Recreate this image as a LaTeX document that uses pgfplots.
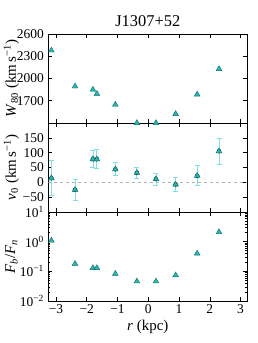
\documentclass[border=0pt]{standalone}
\usepackage{fontspec}
\setmainfont{Liberation Serif}
\usepackage{pgfplots}
\pgfplotsset{compat=1.18}
\definecolor{mk}{HTML}{25B8B2}
\definecolor{mke}{HTML}{0F6B68}
\definecolor{eb}{HTML}{80DEE4}
\pgfplotsset{
  panel/.style={
    scale only axis, width=199bp, height=89bp,
    xmin=-3.25, xmax=3.22,
    xtick={-3,...,3},
    tick align=inside,
    /pgf/number format/1000 sep={},
    /pgf/number format/assume math mode=true,
    ticklabel style={font=\fontsize{13.5}{13.5}\selectfont},
    label style={font=\fontsize{15}{15}\selectfont},
    axis line style={line width=0.8pt},
    major tick length=4bp, minor tick length=2bp,
    every tick/.style={black, line width=0.5pt},
    ylabel style={at={(axis description cs:-0.185,0.5)}, anchor=center},
    yticklabel style={xshift=-1bp},
  },
  mks/.style={only marks, mark=triangle*, mark size=3.3bp, mark options={fill=mk, draw=mke, line width=0.4pt}},
}
\pgfplotstableread{
x      w     v    e    f
-3.15  2379  14   59   1.1
-2.38  1894  -25  35   0.18
-1.80  1850  78   28   0.13
-1.67  1794  78   32   0.13
-1.07  1648  44   22   0.083
-0.37  1401  32   20   0.046
0.25   1401  11   20   0.046
0.89   1522  -7   24   0.074
1.59   1785  22   34   0.40
2.30   2128  105  43   2.1
}\data
\begin{document}
\begin{tikzpicture}
\path[use as bounding box] (0,0) rectangle (258bp,343bp);
% bottom panel
\begin{axis}[panel, at={(48.3bp,42bp)}, anchor=south west,
  ymode=log, ymin=1e-2, ymax=10,
  ytick={0.01,0.1,1,10},
  yticklabels={10\textsuperscript{−2},10\textsuperscript{−1},10\textsuperscript{0},10\textsuperscript{1}},
  xticklabels={−3,−2,−1,0,1,2,3},
  xlabel={\textit{r} (kpc)},
  ylabel={\textit{F}\textsubscript{\textit{b}}/\textit{F}\textsubscript{\textit{n}}},
]
\addplot[mks] table[x=x,y=f]{\data};
\end{axis}
% middle panel
\begin{axis}[panel, at={(48.3bp,131bp)}, anchor=south west,
  ymin=-100, ymax=200,
  ytick={-50,0,50,100,150},
  yticklabels={−50,0,50,100,150},
  xticklabels={},
  ylabel={\textit{v}\textsubscript{0} (km\,s\textsuperscript{−1})},
]
\draw[gray!60, dashed, line width=0.8pt] (axis cs:-3.25,0) -- (axis cs:3.22,0);
\addplot[only marks, mark=none, forget plot,
  error bars/.cd, y dir=both, y explicit,
  error bar style={draw=eb, line width=0.8pt},
  error mark options={draw=eb, rotate=90, mark size=2.5bp, line width=0.8pt}]
  table[x=x,y=v,y error=e]{\data};
\addplot[mks] table[x=x,y=v]{\data};
\end{axis}
% top panel
\begin{axis}[panel, at={(48.3bp,220bp)}, anchor=south west,
  ymin=1400, ymax=2600,
  ytick={1700,2000,2300,2600},
  xticklabels={},
  ylabel={\textit{W}\textsubscript{80} (km\,s\textsuperscript{−1})},
  title={J1307+52},
  title style={font=\fontsize{16.5}{16.5}\selectfont, at={(axis description cs:0.5,1)}, anchor=base, yshift=1.5bp},
]
\addplot[mks] table[x=x,y=w]{\data};
\end{axis}
\end{tikzpicture}
\end{document}
